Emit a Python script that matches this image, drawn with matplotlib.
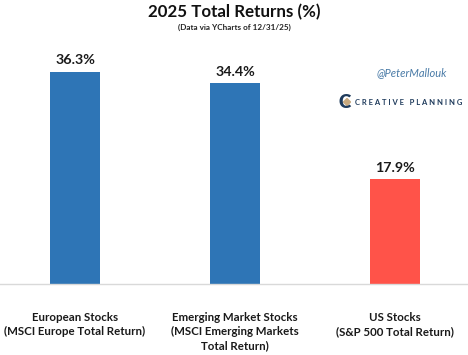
import matplotlib
matplotlib.use("Agg")
import matplotlib.pyplot as plt
from matplotlib.patches import Polygon

categories = ["European Stocks\n(MSCI Europe Total Return)",
              "Emerging Market Stocks\n(MSCI Emerging Markets\nTotal Return)",
              "US Stocks\n(S&P 500 Total Return)"]
values = [36.3, 34.4, 17.9]
value_labels = ["36.3%", "34.4%", "17.9%"]
colors = ["#2E75B6", "#2E75B6", "#FF5349"]

plt.rcParams['font.family'] = ['Lato', 'DejaVu Sans']

W, H = 468, 355
fig = plt.figure(figsize=(W / 100, H / 100), dpi=100)
base_y = 284
px_per_unit = (284 - 71.7) / 36.3
ymax = 40
ax_h = ymax * px_per_unit
ax = fig.add_axes([0, (H - base_y) / H, 1, ax_h / H])
ax.set_ylim(0, ymax)
ax.set_xlim(-75 / 160, (468 - 75) / 160)
x = list(range(len(categories)))
ax.bar(x, values, width=50 / 160, color=colors, zorder=2)
for xi, v, lab in zip(x, values, value_labels):
    ax.text(xi, v + 0.9, lab, ha='center', va='bottom', fontsize=10.3,
            fontweight='bold', color='#1a1a1a')
for s in ['top', 'right', 'left']:
    ax.spines[s].set_visible(False)
ax.spines['bottom'].set_color('#D9D9D9')
ax.spines['bottom'].set_linewidth(1.0)
ax.set_yticks([])
ax.set_xticks(x)
ax.set_xticklabels(categories, fontsize=8.3, fontweight='bold', color='#1a1a1a',
                   linespacing=1.38, va='top')
ax.tick_params(axis='x', length=0, pad=20)

fig.text(0.5, 1 - 12 / H, "2025 Total Returns (%)", ha='center', va='center',
         fontsize=12.2, fontweight='bold', color='#111111')
fig.text(0.5, 1 - 27 / H, "(Data via YCharts of 12/31/25)", ha='center', va='center',
         fontsize=5.9, fontweight='bold', color='#222222')

fig.text(412 / W, 1 - 73 / H, "@PeterMallouk", ha='center', va='center',
         fontsize=8, fontstyle='italic', color='#4A7BA7')

# logo
fig.text(345 / W, 1 - 102 / H, "C", ha='center', va='center', fontsize=13.5,
         fontweight='heavy', color='#1F3B5C')
dx, dy = 347, 102
diamond = Polygon([((dx - 3.5) / W, 1 - dy / H), (dx / W, 1 - (dy - 3.5) / H),
                   ((dx + 3.5) / W, 1 - dy / H), (dx / W, 1 - (dy + 3.5) / H)],
                  closed=True, transform=fig.transFigure, color='#C8A97E')
fig.patches.append(diamond)
fig.text(408.5 / W, 1 - 102 / H, "C R E A T I V E   P L A N N I N G", ha='center',
         va='center', fontsize=5.5, fontweight='bold', color='#1F3B5C')

fig.savefig("out.png", dpi=100, facecolor='white')
